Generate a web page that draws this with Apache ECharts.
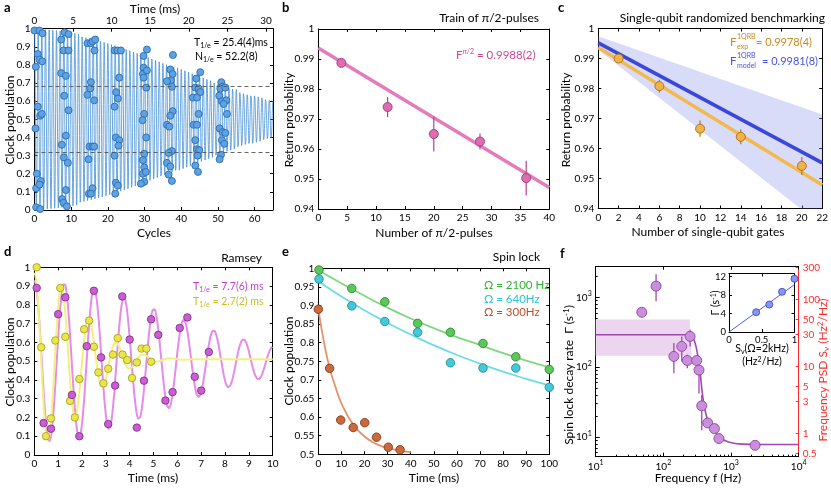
<!DOCTYPE html>
<html><head><meta charset="utf-8">
<script src="https://cdn.jsdelivr.net/npm/echarts@6/dist/echarts.min.js"></script>
<style>html,body{margin:0;padding:0;background:#fff}#c{width:831px;height:489px}</style>
</head><body><div id="c"></div>
<script>
// ================= DATA =================
// Panel a: oscillation (cycles vs clock population)
const aCycleMax = 65, aTimeMax = 30.9;
const aFitN1e = 52.2;            // N_1/e from fit (cycles)
const aFitLevels = [0.684, 0.316];
const aCycles = [0,1.36,2.18,0.36,0.9,1.36,2.1,0.9,1.55,2.0,0.27,0.64,0.45,1.73,1.36,0.45,1.55,
 7.27,8.18,9.27,7.91,9.27,7.27,8.55,8.09,9.27,8.55,7.45,8.0,9.09,8.55,7.55,7.91,8.82,
 14.45,15.36,15.82,16.55,16.36,15.36,15.18,14.45,16.27,15.0,15.82,16.27,14.73,14.82,15.82,15.36,
 21.82,22.64,23.55,23.09,22.27,22.73,21.82,22.18,23.09,22.91,21.82,22.18,22.73,22.0,
 30.64,29.73,29.73,29.55,30.64,29.73,30.45,29.91,29.45,30.45,29.91,29.55,29.91,29.55,30.36,29.91,29.0,
 37.73,37.0,37.64,37.18,36.09,37.45,37.64,37.0,36.09,36.73,37.45,36.55,36.09,37.0,36.55,37.45,
 45.18,44.09,43.82,44.73,45.18,43.18,44.27,44.73,43.36,44.27,43.82,44.27,44.91,44.45,43.82,44.55,
 50.91,51.27,50.64,52.0,50.36,51.09,52.27,51.55,52.45,50.45,51.27,52.0,51.09,51.73,50.82,50.45];
const aPop = [0.99,0.99,0.975,0.79,0.86,0.83,0.82,0.57,0.52,0.53,0.45,0.2,0.12,0.16,0.14,0.015,0.005,
 0.94,0.98,0.97,0.88,0.88,0.755,0.74,0.63,0.55,0.41,0.36,0.29,0.26,0.11,0.06,0.04,0.02,
 0.92,0.92,0.93,0.94,0.88,0.705,0.67,0.635,0.605,0.35,0.35,0.35,0.28,0.09,0.12,0.09,
 0.88,0.88,0.88,0.73,0.65,0.615,0.57,0.4,0.385,0.355,0.3,0.15,0.135,0.09,
 0.885,0.85,0.785,0.75,0.77,0.73,0.675,0.53,0.495,0.40,0.31,0.275,0.235,0.2,0.21,0.155,0.145,
 0.855,0.775,0.75,0.715,0.71,0.68,0.545,0.52,0.47,0.46,0.325,0.315,0.26,0.24,0.195,0.16,
 0.76,0.725,0.675,0.67,0.65,0.62,0.62,0.53,0.47,0.47,0.385,0.335,0.33,0.30,0.245,0.21,
 0.705,0.68,0.67,0.675,0.63,0.6,0.605,0.585,0.53,0.45,0.43,0.425,0.385,0.365,0.305,0.28];

// Panel b: train of pi/2 pulses
const bPulses = [4,12,20,28,36];
const bReturn = [0.9887,0.9740,0.9650,0.9625,0.9503];
const bErr = [0.0005,0.0033,0.0058,0.0027,0.0058];
const bFitX = [0,40], bFitY = [0.9937,0.9472];

// Panel c: randomized benchmarking
const cGates = [2,6,10,14,20];
const cReturn = [0.9900,0.9808,0.9666,0.9639,0.9542];
const cErr = [0.0008,0.0021,0.0027,0.0025,0.0030];
const cExpFitX = [0,22], cExpFitY = [0.9937,0.9478];
const cModelFitX = [0,22], cModelFitY = [0.9952,0.9552];
const cBandX = [0,22], cBandHi = [0.9974,0.9713], cBandLo = [0.9928,0.9343];

// Panel d: Ramsey
const dMagT = [0.1,0.39,0.7,1.0,1.3,1.58,1.89,2.2,2.5,2.8,3.1,3.39,3.69,4.0,4.3,4.6,4.9,5.2,5.5,5.8,6.1,6.42,6.73,7.0,7.32];
const dMagP = [0.89,0.17,0.14,0.75,0.84,0.32,0.10,0.58,0.875,0.52,0.165,0.37,0.845,0.615,0.146,0.396,0.723,0.64,0.29,0.335,0.677,0.733,0.417,0.343,0.549];
const dYelT = [0.1,0.29,0.49,0.7,0.88,1.09,1.3,1.5,1.7,1.89,2.09,2.3,2.5,2.69,2.9,3.1,3.3,3.5,3.7,3.9,4.1,4.3,4.5,4.7,4.9];
const dYelP = [1.0,0.574,0.10,0.195,0.61,0.89,0.63,0.288,0.2,0.405,0.67,0.716,0.577,0.44,0.382,0.46,0.535,0.623,0.535,0.506,0.41,0.493,0.567,0.567,0.497];
const dMagFit = {offset:0.5, amp:0.43, period:1.255, T1e:7.7};
const dYelFit = {offset:0.51, amp:0.46, period:1.15, T1e:2.7};

// Panel e: spin lock
const eGreenT = [0.3,14.5,28.8,43,57.2,71.3,85.5,100];
const eGreenP = [0.9955,0.946,0.910,0.852,0.828,0.798,0.762,0.728];
const eCyanT = [0.3,14.5,28.8,43,57.2,71.3,85.5,100];
const eCyanP = [0.971,0.899,0.857,0.828,0.746,0.732,0.732,0.680];
const eRedT = [0,4.9,9.7,15.1,20.1,25.2,30.3,35.4];
const eRedP = [0.89,0.731,0.592,0.572,0.585,0.546,0.519,0.512];
const eFitT = [0,10,20,30,40,50,60,70,80,90,100];
const eGreenFit = [0.995,0.960,0.926,0.894,0.865,0.839,0.815,0.794,0.772,0.752,0.734];
const eCyanFit = [0.965,0.924,0.887,0.853,0.822,0.793,0.767,0.744,0.722,0.703,0.685];
const eRedFitT = [0,2.5,5,7.5,10,15,20,25,30,35,40];
const eRedFit = [0.89,0.80,0.73,0.68,0.637,0.581,0.548,0.528,0.517,0.510,0.506];

// Panel f: spin-lock decay rate spectrum
const fFreq = [48,78,143,187,226,248,311,336,369,452,568,662,2265];
const fGamma = [614,1455,143,199,125,277,125,91,28,15.9,13.2,9.5,7.6];
const fGammaLo = [580,885,82,121,97,199,112,42,12.5,14.5,12,8.8,7.3];
const fGammaHi = [650,2150,222,277,151,345,140,121,40,17.5,14.5,10.3,7.9];
const fCurveF = [10,242,268,294,321,348,377,413,463,548,687,914,1439,2838,10000];
const fCurveG = [292,292,271,222,151,86.6,42.2,24.2,16.8,12.8,9.8,8.5,7.9,7.8,7.8];
const fBand = [[10,482],[245,482],[262,146],[10,146]];
const fGammaMin = 5.22, fGammaMax = 2765;
const fPsdMin = 0.448, fPsdMax = 307;
const fPsdTicks = [0.5,1,3,5,10,30,50,100,300];
const fMinorX = [20,30,40,50,60,70,80,90,200,300,400,500,600,700,800,900,2000,3000,4000,5000,6000,7000,8000,9000];
const fMinorY = [6,7,8,9,20,30,40,50,60,70,80,90,200,300,400,500,600,700,800,900,2000];
// inset
const fInsS = [0.415,0.615,0.81,1.0];
const fInsG = [4.29,5.96,8.73,11.56];
const fInsFitX = [0,1], fInsFitY = [0,10.3];

// ================= BUILD =================
const FONT = 'Lato';
const grids = [], xAxes = [], yAxes = [], series = [], texts = [];
function merge(a,b){ for(const k in b){ const v=b[k]; if(v&&typeof v==='object'&&!Array.isArray(v)&&a[k]&&typeof a[k]==='object'&&!Array.isArray(a[k])) merge(a[k],v); else a[k]=v; } return a; }
function addGrid(g){ grids.push(merge({show:false},g)); return grids.length-1; }
function addX(o){ xAxes.push(o); return xAxes.length-1; }
function addY(o){ yAxes.push(o); return yAxes.length-1; }
function mkAxis(gi,position,ext){
  return merge({type:'value',gridIndex:gi,position:position,
    axisLine:{show:true,onZero:false,lineStyle:{color:'#000',width:1}},
    axisTick:{show:true,inside:true,length:3,lineStyle:{color:'#000',width:1}},
    axisLabel:{show:true,color:'#000',fontFamily:FONT,fontSize:10,margin:4},
    splitLine:{show:false}}, ext||{});
}
function mirror(ax,position){ const m=JSON.parse(JSON.stringify(ax)); m.position=position; m.axisLabel.show=false; return m; }
function zip(a,b){ return a.map((v,i)=>[v,b[i]]); }
function errSeries(xi,yi,xs,lo,hi,color,w){
  return {type:'custom',xAxisIndex:xi,yAxisIndex:yi,clip:true,z:3,silent:true,
    data:xs.map((x,i)=>[x,lo[i],hi[i]]),
    renderItem:(p,api)=>{const p1=api.coord([api.value(0),api.value(1)]);const p2=api.coord([api.value(0),api.value(2)]);
      return {type:'line',shape:{x1:p1[0],y1:p1[1],x2:p2[0],y2:p2[1]},style:{stroke:color,lineWidth:w}};}};
}
function polySeries(xi,yi,pts,color){
  return {type:'custom',xAxisIndex:xi,yAxisIndex:yi,clip:true,z:1,silent:true,data:[pts[0]],
    renderItem:(p,api)=>({type:'polygon',shape:{points:pts.map(q=>api.coord(q))},style:{fill:color}})};
}
function lineS(xi,yi,data,color,w,smooth){
  return {type:'line',xAxisIndex:xi,yAxisIndex:yi,data:data,showSymbol:false,symbol:'none',smooth:!!smooth,z:2,silent:true,
    lineStyle:{color:color,width:w}};
}
function scat(xi,yi,data,fill,stroke,size){
  return {type:'scatter',xAxisIndex:xi,yAxisIndex:yi,data:data,symbolSize:size,z:4,silent:true,
    itemStyle:{color:fill,borderColor:stroke,borderWidth:0.9,opacity:1}};
}
function rich(color,size){
  return {n:{fill:color,fontSize:size,fontFamily:FONT},
    sub:{fill:color,fontSize:Math.round(size*0.65),fontFamily:FONT,padding:[Math.round(size*0.5),0,0,0]},
    sup:{fill:color,fontSize:Math.round(size*0.65),fontFamily:FONT,padding:[0,0,Math.round(size*0.5),0]}};
}
function txt(x,y,text,o){
  o=o||{}; const size=o.size||12; const color=o.color||'#000';
  texts.push({type:'text',x:x,y:y,rotation:o.rot||0,z:100,silent:true,
    style:{text:text,fill:color,font:(o.weight||'normal')+' '+size+'px '+FONT,align:o.align||'left',verticalAlign:'middle',rich:rich(color,size)}});
}
function panel(g,xo,yo){
  const gi=addGrid(g);
  const xi=addX(mkAxis(gi,'bottom',xo)); addX(mirror(xAxes[xi],'top'));
  const yi=addY(mkAxis(gi,'left',yo)); addY(mirror(yAxes[yi],'right'));
  return {gi,xi,yi};
}

// ---- Panel a ----
const gA = addGrid({left:34.5,top:28.7,width:238.5,height:181.3});
const aX = addX(mkAxis(gA,'bottom',{min:0,max:aCycleMax,interval:10,axisLabel:{showMaxLabel:false}}));
addX(mkAxis(gA,'top',{min:0,max:aTimeMax,interval:5,axisLabel:{showMaxLabel:false,margin:3}}));
const aY = addY(mkAxis(gA,'left',{min:0,max:1,interval:0.1}));
addY(mirror(yAxes[aY],'right'));
const aFit = [];
for (let i=0;i<=aCycleMax*50;i++){ const n=i/50; aFit.push([n, 0.5+0.5*Math.exp(-Math.pow(n/aFitN1e,2))*Math.cos(2*Math.PI*n)]); }
series.push(merge(lineS(aX,aY,aFit,'#4690d4',0.8),{markLine:{silent:true,symbol:'none',label:{show:false},
  lineStyle:{type:[4,3],color:'#555',width:0.9},data:aFitLevels.map(v=>({yAxis:v}))}}));
series.push(scat(aX,aY,zip(aCycles,aPop),'#5fa2e2','#2a6cb3',7));

// ---- Panel b ----
const pb = panel({left:318.3,top:29,width:231,height:180},{min:0,max:40,interval:5},{min:0.94,max:1,interval:0.01});
series.push(lineS(pb.xi,pb.yi,zip(bFitX,bFitY),'#e27cbc',3.5));
series.push(errSeries(pb.xi,pb.yi,bPulses,bReturn.map((v,i)=>v-bErr[i]),bReturn.map((v,i)=>v+bErr[i]),'#b8408a',1.2));
series.push(scat(pb.xi,pb.yi,zip(bPulses,bReturn),'#da6eb0','#a8347a',9));

// ---- Panel c ----
const pc = panel({left:598.3,top:28.5,width:227.4,height:180},{min:0,max:22,interval:2},{min:0.94,max:1,interval:0.01});
series.push(polySeries(pc.xi,pc.yi,[[cBandX[0],cBandHi[0]],[cBandX[1],cBandHi[1]],[cBandX[1],cBandLo[1]],[cBandX[0],cBandLo[0]]],'rgba(140,150,238,0.33)'));
series.push(lineS(pc.xi,pc.yi,zip(cModelFitX,cModelFitY),'#3a47d8',3.5));
series.push(lineS(pc.xi,pc.yi,zip(cExpFitX,cExpFitY),'#f2b94f',3.5));
series.push(errSeries(pc.xi,pc.yi,cGates,cReturn.map((v,i)=>v-cErr[i]),cReturn.map((v,i)=>v+cErr[i]),'#b0781c',1.2));
series.push(scat(pc.xi,pc.yi,zip(cGates,cReturn),'#f2b24a','#a86e14',9));

// ---- Panel d ----
const pd = panel({left:34.3,top:267.3,width:238.4,height:187.7},{min:0,max:10,interval:1},{min:0,max:1,interval:0.1});
function ramsey(f){ const out=[]; for(let i=0;i<=1000;i++){const t=i/100; out.push([t, f.offset+f.amp*Math.exp(-Math.pow(t/f.T1e,2))*Math.cos(2*Math.PI*t/f.period)]);} return out; }
series.push(lineS(pd.xi,pd.yi,ramsey(dMagFit),'#e58be9',2));
series.push(lineS(pd.xi,pd.yi,ramsey(dYelFit),'#f3f07c',2));
series.push(scat(pd.xi,pd.yi,zip(dYelT,dYelP),'#e9e54a','#a9a41e',7.5));
series.push(scat(pd.xi,pd.yi,zip(dMagT,dMagP),'#c95ed2','#86308f',7.5));

// ---- Panel e ----
const pe = panel({left:318.3,top:268.3,width:231,height:186},{min:0,max:100,interval:10},{min:0.5,max:1,interval:0.05});
series.push(lineS(pe.xi,pe.yi,zip(eFitT,eGreenFit),'#7ed87e',1.8,true));
series.push(lineS(pe.xi,pe.yi,zip(eFitT,eCyanFit),'#6cdde8',1.8,true));
series.push(lineS(pe.xi,pe.yi,zip(eRedFitT,eRedFit),'#e8926c',1.8,true));
series.push(scat(pe.xi,pe.yi,zip(eGreenT,eGreenP),'#5cc75c','#2f8a2f',8.5));
series.push(scat(pe.xi,pe.yi,zip(eCyanT,eCyanP),'#45c9d8','#1f8e9c',8.5));
series.push(scat(pe.xi,pe.yi,zip(eRedT,eRedP),'#c96a3e','#8a3a1a',8.5));

// ---- Panel f ----
const gF = addGrid({left:595.7,top:266.7,width:203,height:190});
const supRich = {b:{fontSize:10,color:'#000',fontFamily:FONT},s:{fontSize:7,color:'#000',fontFamily:FONT,padding:[0,0,7,0]}};
const powFmt = v => '{b|10}{s|' + Math.round(Math.log10(v)) + '}';
const RED = '#ff2a2a';
const fX = addX(mkAxis(gF,'bottom',{type:'log',logBase:10,min:10,max:10000,axisTick:{length:4},axisLabel:{formatter:powFmt,rich:supRich,margin:3}}));
addX(mkAxis(gF,'bottom',{min:1,max:4,axisLine:{show:false},axisTick:{length:2,customValues:fMinorX.map(Math.log10)},axisLabel:{show:false}}));
addX(mkAxis(gF,'top',{min:1,max:4,interval:1,axisLabel:{show:false}}));
const fY = addY(mkAxis(gF,'left',{type:'log',logBase:10,min:fGammaMin,max:fGammaMax,axisTick:{length:4},axisLabel:{formatter:powFmt,rich:supRich,showMinLabel:false,showMaxLabel:false}}));
addY(mkAxis(gF,'left',{min:Math.log10(fGammaMin),max:Math.log10(fGammaMax),axisLine:{show:false},axisTick:{length:2,customValues:fMinorY.map(Math.log10)},axisLabel:{show:false}}));
addY(mkAxis(gF,'right',{min:Math.log10(fPsdMin),max:Math.log10(fPsdMax),axisLine:{lineStyle:{color:RED}},
  axisTick:{customValues:fPsdTicks.map(Math.log10),lineStyle:{color:RED},length:3},
  axisLabel:{customValues:fPsdTicks.map(Math.log10),color:RED,fontSize:10,formatter:v=>{const t=fPsdTicks.find(q=>Math.abs(Math.log10(q)-v)<1e-6);return t===undefined?'':String(t);}}}));
series.push(polySeries(fX,fY,fBand,'#ecd5ef'));
series.push(lineS(fX,fY,zip(fCurveF,fCurveG),'#a445b4',1.6,true));
series.push(errSeries(fX,fY,fFreq,fGammaLo,fGammaHi,'#a445b4',1.3));
series.push(scat(fX,fY,zip(fFreq,fGamma),'#c98fda','#9142a8',10));

// inset
const pi = panel({left:729,top:273.5,width:65.5,height:58.5,show:true,backgroundColor:'#fff',borderWidth:0},
  {min:0,max:1,interval:0.5,axisLabel:{fontSize:9.5,margin:3}},
  {min:0,max:12.7,interval:4,axisLabel:{fontSize:9.5,showMaxLabel:false,margin:3}});
series.push(lineS(pi.xi,pi.yi,zip(fInsFitX,fInsFitY),'#4c5de4',1));
series.push(scat(pi.xi,pi.yi,zip(fInsS,fInsG),'#8797f0','#3f4fc8',7));

// ---- Texts ----
const RV = Math.PI/2;
['a','b','c','d','e','f'].forEach((l,i)=>{ const pos=[[4,8],[282,8],[558,8],[4,252],[282,252],[560,254]][i]; txt(pos[0],pos[1],l,{weight:'bold',size:13}); });
// a
txt(155,9,'Time (ms)',{align:'center'});
txt(154,233,'Cycles',{align:'center'});
txt(10,120,'Clock population',{align:'center',rot:RV});
txt(194,43,'{n|T}{sub|1/e}{n| = 25.4(4)ms}',{size:10.5});
txt(195,57,'{n|N}{sub|1/e}{n| = 52.2(8)}',{size:10.5});
// b
txt(539,18,'Train of π/2-pulses',{align:'right'});
txt(289,120,'Return probability',{align:'center',rot:RV});
txt(434,233,'Number of π/2-pulses',{align:'center'});
txt(456,55,'{n|F}{sup|π/2}{n| = 0.9988(2)}',{color:'#cc4595',size:11.5});
// c
txt(825,18,'Single-qubit randomized benchmarking',{align:'right'});
txt(566,120,'Return probability',{align:'center',rot:RV});
txt(708,232,'Number of single-qubit gates',{align:'center'});
const cOr='#c78b1f', cBl='#4653e0';
txt(730,42,'F',{color:cOr,size:11.5}); txt(737,37,'1QRB',{color:cOr,size:7}); txt(737,47,'exp',{color:cOr,size:7});
txt(756,42,'= 0.9978(4)',{color:cOr,size:11});
txt(730,61,'F',{color:cBl,size:11.5}); txt(737,56,'1QRB',{color:cBl,size:7}); txt(737,66,'model',{color:cBl,size:7});
txt(762,61,'= 0.9981(8)',{color:cBl,size:11});
// d
txt(262,258,'Ramsey',{align:'right'});
txt(10,362,'Clock population',{align:'center',rot:RV});
txt(153,478,'Time (ms)',{align:'center'});
txt(193,287,'{n|T}{sub|1/e}{n| = 7.7(6) ms}',{color:'#c43fd0',size:10.5});
txt(193,302,'{n|T}{sub|1/e}{n| = 2.7(2) ms}',{color:'#c8c020',size:10.5});
// e
txt(540,257,'Spin lock',{align:'right'});
txt(289,361,'Clock population',{align:'center',rot:RV});
txt(434,478,'Time (ms)',{align:'center'});
txt(484,285,'Ω = 2100 Hz',{color:'#34b034',size:11.5});
txt(484,299,'Ω = 640Hz',{color:'#2ec3d4',size:11.5});
txt(484,312,'Ω = 300Hz',{color:'#c2502c',size:11.5});
// f
txt(569,375,'{n|Spin lock decay rate  Γ (s}{sup|-1}{n|)}',{align:'center',rot:RV});
txt(823,370,'{n|Frequency PSD S}{sub|ν}{n| (Hz}{sup|2}{n|/Hz)}',{align:'center',rot:RV,color:RED});
txt(698,478,'Frequency f (Hz)',{align:'center'});
txt(716,303,'{n|Γ (s}{sup|-1}{n|)}',{align:'center',rot:RV,size:10.5});
txt(762,349,'{n|S}{sub|ν}{n|(Ω=2kHz)}',{align:'center',size:10.5});
txt(762,362,'{n|(Hz}{sup|2}{n|/Hz)}',{align:'center',size:10.5});

const chart = echarts.init(document.getElementById('c'),null,{renderer:'canvas'});
chart.setOption({animation:false,backgroundColor:'#fff',grid:grids,xAxis:xAxes,yAxis:yAxes,series:series,graphic:{elements:texts}});
</script></body></html>
